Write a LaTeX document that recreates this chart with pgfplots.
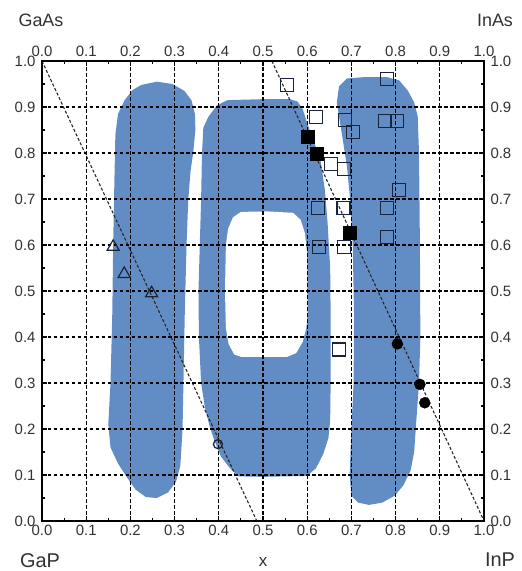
\documentclass[border=0pt]{standalone}
\usepackage{pgfplots}
\pgfplotsset{compat=1.18}
\usepackage{fontspec}
\setmainfont{Liberation Sans}
\definecolor{blob}{RGB}{98,141,196}
\definecolor{tl}{RGB}{50,50,50}
\definecolor{mk}{RGB}{25,35,60}
\begin{document}
\begin{tikzpicture}
\useasboundingbox (-42bp,-50bp) rectangle (480bp,521bp);
\begin{axis}[
  scale only axis, width=442bp, height=460bp,
  xmin=0, xmax=1, ymin=0, ymax=1,
  xtick={0,0.1,0.2,0.3,0.4,0.5,0.6,0.7,0.8,0.9,1.0},
  ytick={0,0.1,0.2,0.3,0.4,0.5,0.6,0.7,0.8,0.9,1.0},
  xticklabels={0.0,0.1,0.2,0.3,0.4,0.5,0.6,0.7,0.8,0.9,1.0},
  yticklabels={0.0,0.1,0.2,0.3,0.4,0.5,0.6,0.7,0.8,0.9,1.0},
  minor tick num=1,
  tick align=inside,
  major tick length=5bp, minor tick length=3bp,
  grid=major,
  major grid style={black, line width=1.3bp, dash pattern=on 3.5bp off 2.5bp},
  axis line style={line width=1.3bp, black},
  tick style={line width=1.1bp, black},
  axis on top,
  ticklabel style={font=\fontsize{15}{15}\selectfont, text=tl},
  xticklabel style={yshift=-1bp},
  yticklabel style={xshift=-3bp},
]
% blobs
\addplot[fill=blob, draw=none] coordinates {
(0.225,0.948) (0.26,0.955) (0.295,0.95) (0.322,0.935) (0.338,0.915) (0.346,0.885) (0.347,0.85) (0.342,0.80) (0.336,0.76) (0.331,0.70) (0.327,0.60) (0.323,0.45) (0.320,0.30) (0.318,0.20) (0.313,0.12) (0.303,0.085) (0.285,0.062) (0.26,0.050) (0.235,0.052) (0.212,0.068) (0.192,0.095) (0.172,0.125) (0.155,0.16) (0.150,0.21) (0.155,0.30) (0.159,0.45) (0.161,0.60) (0.164,0.75) (0.166,0.84) (0.172,0.885) (0.187,0.915) (0.205,0.937)} -- cycle;
\addplot[fill=blob, draw=none] coordinates {
(0.42,0.915) (0.50,0.917) (0.561,0.917) (0.578,0.912) (0.590,0.895) (0.600,0.865) (0.615,0.825) (0.630,0.785) (0.640,0.72) (0.646,0.65) (0.652,0.55) (0.653,0.45) (0.653,0.30) (0.652,0.22) (0.648,0.18) (0.636,0.145) (0.620,0.115) (0.600,0.098) (0.50,0.096) (0.445,0.097) (0.425,0.115) (0.405,0.14) (0.390,0.175) (0.378,0.21) (0.368,0.25) (0.360,0.30) (0.355,0.40) (0.354,0.50) (0.357,0.60) (0.360,0.70) (0.362,0.80) (0.365,0.855) (0.376,0.878) (0.396,0.904)} -- cycle;
\addplot[fill=white, draw=none] coordinates {
(0.45,0.672) (0.51,0.673) (0.568,0.670) (0.585,0.655) (0.595,0.625) (0.600,0.58) (0.601,0.45) (0.598,0.42) (0.590,0.39) (0.575,0.365) (0.555,0.357) (0.45,0.357) (0.435,0.362) (0.422,0.385) (0.416,0.42) (0.414,0.50) (0.416,0.60) (0.421,0.635) (0.432,0.66)} -- cycle;
\addplot[fill=blob, draw=none] coordinates {
(0.672,0.945) (0.69,0.962) (0.73,0.965) (0.78,0.965) (0.808,0.958) (0.828,0.935) (0.842,0.91) (0.850,0.88) (0.853,0.80) (0.855,0.60) (0.856,0.40) (0.853,0.30) (0.847,0.22) (0.842,0.15) (0.834,0.11) (0.818,0.078) (0.798,0.055) (0.770,0.040) (0.740,0.035) (0.715,0.040) (0.700,0.055) (0.696,0.10) (0.700,0.20) (0.705,0.30) (0.706,0.45) (0.703,0.60) (0.697,0.70) (0.690,0.77) (0.677,0.85) (0.667,0.91)} -- cycle;
% dashed reference lines
\addplot[black!85, line width=1.1bp, dash pattern=on 3bp off 2bp] coordinates {(0,1) (0.486,0)};
\addplot[black!85, line width=1.1bp, dash pattern=on 3bp off 2bp] coordinates {(0.52,1) (1,0)};
% open squares
\addplot[only marks, mark=square, mark size=6.5bp, mark options={draw=mk, line width=1.2bp}] coordinates {
(0.554,0.948) (0.620,0.878) (0.686,0.872) (0.703,0.846) (0.780,0.961) (0.776,0.870) (0.803,0.870)
(0.654,0.776) (0.683,0.765) (0.807,0.720) (0.625,0.680) (0.682,0.680) (0.780,0.680) (0.780,0.617)
(0.627,0.596) (0.684,0.596) (0.672,0.373)};
% filled squares
\addplot[only marks, mark=square*, mark size=6.5bp, mark options={draw=black, fill=black}] coordinates {
(0.600,0.835) (0.622,0.798) (0.697,0.626)};
% filled circles
\addplot[only marks, mark=*, mark size=5.5bp, mark options={draw=black, fill=black}] coordinates {
(0.804,0.385) (0.855,0.297) (0.866,0.257)};
% triangles
\addplot[only marks, mark=triangle, mark size=7bp, mark options={draw=mk, line width=1.2bp}] coordinates {
(0.161,0.596) (0.186,0.537) (0.248,0.495)};
% open circle
\addplot[only marks, mark=o, mark size=4.5bp, mark options={draw=mk, line width=1.3bp}] coordinates {
(0.398,0.167)};
\end{axis}
\begin{axis}[
  scale only axis, width=442bp, height=460bp,
  xmin=0, xmax=1, ymin=0, ymax=1,
  axis x line*=top, axis y line*=right,
  xtick={0,0.1,0.2,0.3,0.4,0.5,0.6,0.7,0.8,0.9,1.0},
  ytick={0,0.1,0.2,0.3,0.4,0.5,0.6,0.7,0.8,0.9,1.0},
  xticklabels={0.0,0.1,0.2,0.3,0.4,0.5,0.6,0.7,0.8,0.9,1.0},
  yticklabels={0.0,0.1,0.2,0.3,0.4,0.5,0.6,0.7,0.8,0.9,1.0},
  axis line style={draw=none},
  tick style={draw=none},
  ticklabel style={font=\fontsize{15}{15}\selectfont, text=tl},
  xticklabel style={yshift=1bp},
  yticklabel style={xshift=3bp},
]
\end{axis}
\node[font=\fontsize{18}{18}\selectfont, text=tl] at (-1bp,501bp) {GaAs};
\node[font=\fontsize{18}{18}\selectfont, text=tl] at (453bp,501bp) {InAs};
\node[font=\fontsize{20}{20}\selectfont, text=tl] at (-2bp,-40bp) {GaP};
\node[font=\fontsize{20}{20}\selectfont, text=tl] at (458bp,-39bp) {InP};
\node[font=\fontsize{17}{17}\selectfont, text=tl] at (221bp,-41bp) {x};
\end{tikzpicture}
\end{document}
